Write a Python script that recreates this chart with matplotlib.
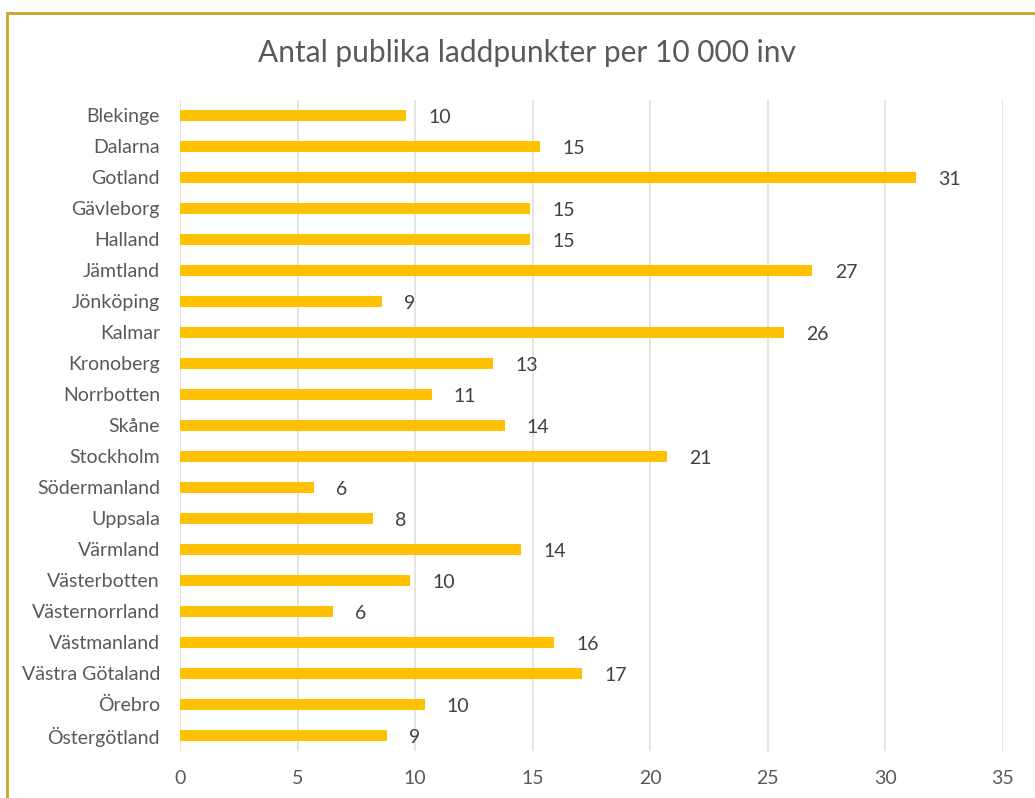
import matplotlib.pyplot as plt
from matplotlib.patches import Rectangle

# Data (bar lengths estimated, labels as printed)
lan = ['Blekinge', 'Dalarna', 'Gotland', 'Gävleborg', 'Halland', 'Jämtland',
       'Jönköping', 'Kalmar', 'Kronoberg', 'Norrbotten', 'Skåne', 'Stockholm',
       'Södermanland', 'Uppsala', 'Värmland', 'Västerbotten', 'Västernorrland',
       'Västmanland', 'Västra Götaland', 'Örebro', 'Östergötland']
varden = [9.6, 15.3, 31.3, 14.9, 14.9, 26.9, 8.6, 25.7, 13.3, 10.7, 13.8, 20.7,
          5.7, 8.2, 14.5, 9.8, 6.5, 15.9, 17.1, 10.4, 8.8]
etiketter = ['10', '15', '31', '15', '15', '27', '9', '26', '13', '11', '14', '21',
             '6', '8', '14', '10', '6', '16', '17', '10', '9']
x_ticks = [0, 5, 10, 15, 20, 25, 30, 35]

plt.rcParams['font.family'] = ['Lato', 'DejaVu Sans']

fig = plt.figure(figsize=(10.35, 7.98), dpi=100)
ax = fig.add_axes([0.174, 0.059, 0.795, 0.816])

y = list(range(len(lan)))
ax.barh(y, varden, height=0.36, color='#FFC000', zorder=3)

for yi, v, lab in zip(y, varden, etiketter):
    ax.annotate(lab, (v, yi), xytext=(16, -1.5), textcoords='offset points',
                va='center', ha='left', fontsize=14, color='#404040')

ax.set_ylim(len(lan) - 0.5, -0.5)
ax.set_xlim(0, 35)
ax.set_yticks(y)
ax.set_yticklabels(lan, fontsize=14, color='#595959')
ax.set_xticks(x_ticks)
ax.set_xticklabels([str(t) for t in x_ticks], fontsize=14, color='#595959')
ax.tick_params(length=0)
ax.tick_params(axis='y', pad=14.5)
ax.tick_params(axis='x', pad=14)
ax.grid(axis='x', color='#DDDDDD', linewidth=1.1, zorder=0)
for s in ax.spines.values():
    s.set_visible(False)

fig.text(0.509, 0.934, 'Antal publika laddpunkter per 10 000 inv',
         ha='center', va='center', fontsize=21.5, color='#595959')

# gold frame around the chart, cut off at right and bottom
fig.patches.append(Rectangle((0.007, -0.05), 1.2, 1.034, transform=fig.transFigure,
                             fill=False, edgecolor='#C9A227', linewidth=2))

fig.savefig('out.png', dpi=100)
